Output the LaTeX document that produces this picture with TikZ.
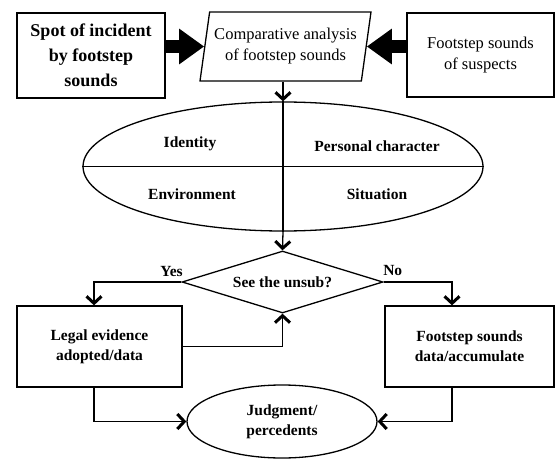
\documentclass[tikz,border=0pt]{standalone}
\usepackage{fontspec}
\setmainfont{Liberation Serif}
\usetikzlibrary{shapes.geometric,arrows.meta}

\begin{document}
\begin{tikzpicture}[x=1pt,y=-1pt,line width=1.3pt,
    >={Straight Barb[length=7pt,width=15pt,line width=3pt]},
    box/.style={draw,rectangle,inner sep=0pt,align=center,font=\fontsize{15.5}{20}\selectfont\bfseries},
    para/.style={draw,trapezium,trapezium left angle=75,trapezium right angle=105,trapezium stretches body,
        minimum width=171pt,minimum height=69pt,inner sep=0pt,align=center,font=\fontsize{16.5}{21}\selectfont},
    oval/.style={draw,ellipse,inner sep=0pt,align=center,font=\fontsize{15.5}{20}\selectfont\bfseries},
    lbl/.style={font=\fontsize{15.5}{20}\selectfont\bfseries},
    fat/.style={line width=13pt,-{Triangle[length=25pt,width=34pt]}}]
    \useasboundingbox (0,0) rectangle (557,460);
    \node[box,minimum width=148pt,minimum height=85pt,font=\fontsize{18}{25}\selectfont\bfseries] (spot) at (91,55.5) {Spot of incident\\by footstep\\sounds};
    \node[para] (cmp) at (285.5,46.5) {Comparative analysis\\of footstep sounds};
    \node[box,minimum width=147pt,minimum height=84pt,font=\fontsize{16.5}{21}\selectfont] (susp) at (480.5,55) {Footstep sounds\\of suspects};
    \node[oval,minimum width=400pt,minimum height=129pt] (traits) at (283,166.5) {};
    \draw (traits.west) -- (traits.east);
    \node[lbl] at (190,144) {Identity};
    \node[lbl] at (377,146) {Personal character};
    \node[lbl] at (192,194) {Environment};
    \node[lbl] at (377,194) {Situation};
    \node[draw,diamond,aspect=3,minimum width=201pt,minimum height=62pt,inner sep=0pt,lbl] (ask) at (282.5,282) {See the unsub?};
    \node[box,minimum width=165pt,minimum height=81pt] (legal) at (99.5,346.5) {Legal evidence\\adopted/data};
    \node[box,minimum width=169pt,minimum height=81pt] (store) at (469.5,346.5) {Footstep sounds\\data/accumulate};
    \node[oval,minimum width=190pt,minimum height=73pt] (judge) at (282,421.5) {Judgment/\\percedents};

    \draw[fat] (spot.east |- cmp.west) -- (cmp.west);
    \draw[fat] (susp.west |- cmp.east) -- (cmp.east);
    \draw[->] (cmp.south -| traits.north) -- (traits.north);
    \draw (traits.north) -- (traits.south);
    \draw[->] (traits.south) -- (ask.north);
    \draw[->] (ask.west) node[lbl,above left,inner sep=1pt,xshift=3pt,yshift=4pt] {Yes} -| ([xshift=-5.5pt]legal.north);
    \draw[->] (ask.east) node[lbl,above right,inner sep=1pt,xshift=-2pt,yshift=5pt] {No} -| ([xshift=-17.5pt]store.north);
    \draw[->] (legal.east) -| (ask.south);
    \draw[->] ([xshift=-5.5pt]legal.south) |- (judge.west);
    \draw[->] ([xshift=-17.5pt]store.south) |- (judge.east);
\end{tikzpicture}
\end{document}
